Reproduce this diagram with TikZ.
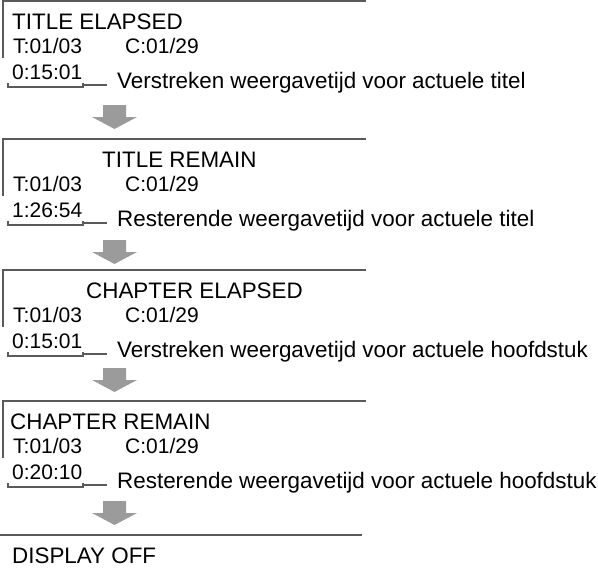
\documentclass[tikz,border=0pt]{standalone}
\usepackage{fontspec}
\setmainfont{Liberation Sans}
\usepackage{xcolor}
\definecolor{arrowgray}{RGB}{155,155,155}
\definecolor{linegray}{RGB}{90,90,90}

\begin{document}
\begin{tikzpicture}[x=1pt,y=-1pt,
  txt/.style={anchor=base west,inner sep=0pt,font=\fontsize{22.4}{26}\selectfont},
  small/.style={anchor=base west,inner sep=0pt,font=\fontsize{21}{25}\selectfont},
  rule/.style={draw=linegray,line width=1.5pt},
  brace/.style={draw=linegray,line width=1.2pt},
  down/.style={fill=arrowgray}]
\useasboundingbox (0,0) rectangle (598,574);

% Display modes
\foreach \i/\y/\ay/\hx/\head/\t/\desc in {1/1/105/12/TITLE ELAPSED/0:15:01/Verstreken weergavetijd voor actuele titel,
  2/139/240/102/TITLE REMAIN/1:26:54/Resterende weergavetijd voor actuele titel,
  3/270/368/86/CHAPTER ELAPSED/0:15:01/Verstreken weergavetijd voor actuele hoofdstuk,
  4/401/501/10/CHAPTER REMAIN/0:20:10/Resterende weergavetijd voor actuele hoofdstuk} {
  \draw[rule] (3,\y+57) -- (3,\y) -- (366,\y);
  \node[txt] (head\i) at (\hx,\y+28) {\head};
  \node[small] (tnum\i) at (13,\y+52) {T:01/03};
  \node[small] (cnum\i) at (125,\y+52) {C:01/29};
  \node[small] (time\i) at (12,\y+78) {\t};
  \node[txt] (desc\i) at (117,\y+87) {\desc};
  % bracket under the time
  \draw[brace] (8,\y+82) -- (8,\y+86) -- (83,\y+86) -- (83,\y+82);
  \coordinate (brk\i) at (83,\y+84);
  \coordinate (gap\i) at (107,\y+84);
  \draw[brace] (brk\i) -- (gap\i);
  % arrow to next mode
  \fill[down] (103,\ay) -- (126,\ay) -- (126,\ay+12) -- (137,\ay+12)
    -- (114.5,\ay+24) -- (92,\ay+12) -- (103,\ay+12) -- cycle;
}

% Last mode
\draw[rule] (0,535) -- (362,535);
\node[txt] (head5) at (12,563) {DISPLAY OFF};
\end{tikzpicture}
\end{document}
